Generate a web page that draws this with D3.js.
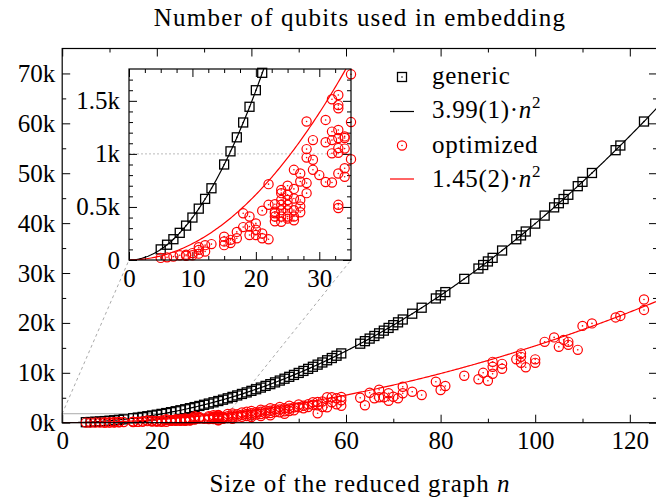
<!DOCTYPE html>
<html><head><meta charset="utf-8">
<script src="https://cdn.jsdelivr.net/npm/d3@7"></script>
<style>body{margin:0;background:#fff}svg{display:block}</style>
</head><body><svg id="c" width="656" height="497"></svg>
<script>
// ---------- data ----------
const genericN = [5,6,7,8,9,10,11,12,13,15,16,17,18,19,20,21,22,23,24,25,26,27,28,29,30,31,32,33,34,35,36,37,38,39,40,41,42,43,44,45,46,47,48,49,50,51,52,53,54,55,56,57,58,59,
  63,64,65,66,67,68,69,70,71,72,74,76,79,80,81,85,88,89,90,91,93,96,97,98,100,102,104,105,106,107,109,110,112,117,118,123];
const genericQ = [100,144,196,256,324,400,484,576,676,900,1024,1156,1296,1444,1600,1764,1931,2111,2298,2494,2697,2909,3128,3356,3591,3834,4086,4345,4613,4888,5171,5462,5762,6069,6384,6707,7038,7378,7725,8080,8443,8814,9193,9580,9975,10378,10789,11208,11635,12070,12513,12964,13422,13889,
  15836,16343,16858,17380,17911,18450,18996,19551,20114,20684,21849,23046,24902,25536,26178,28828,30899,31605,32319,33041,34510,36772,37542,38320,39900,41512,43156,43990,44832,45681,47405,48279,50051,54619,55557,60365];

const optimizedN = [5,6,7,8,9,9,10,10,11,11,11,12,12,13,15,15,15,16,16,17,17,18,18,19,19,19,20,20,20,21,21,21,22,22,22,
  23,23,23,23,23,24,24,24,24,24,24,24,25,25,25,25,25,25,25,26,26,26,26,26,26,27,27,27,27,27,28,28,28,28,28,29,29,29,30,31,31,31,
  32,32,32,32,32,33,33,33,33,33,33,33,33,33,33,34,34,34,34,34,
  35,35,35,36,36,36,36,37,37,38,38,38,39,39,39,40,40,40,40,41,41,42,42,42,42,43,43,44,44,44,44,45,45,46,46,46,47,47,47,48,48,48,49,49,
  50,50,51,51,52,52,53,53,54,54,54,55,55,56,56,57,57,58,58,59,59,59,
  63,64,65,66,67,67,68,69,69,70,71,72,72,74,76,79,80,81,85,88,89,90,91,91,91,93,93,96,97,97,97,98,100,100,102,104,105,106,107,107,109,110,112,117,118,123,123];
const optimizedQ = [20,25,32,45,50,40,65,45,95,60,120,80,140,150,220,175,140,190,160,265,205,440,310,410,315,235,345,285,235,465,250,205,715,520,195,
  525,455,410,365,440,660,630,565,520,470,410,360,700,615,565,520,470,410,390,850,670,580,470,410,375,815,740,565,505,450,1305,1045,965,725,630,1130,945,850,800,1320,1110,735,
  1515,1210,1130,1005,730,1555,1460,1430,1225,1150,1055,1010,815,520,490,1165,1150,1050,865,785,
  1750,1300,950,1850,1450,1100,800,1700,1250,2050,1600,1200,2200,1750,1350,2350,1900,1500,1150,2100,1650,2600,2200,1750,1350,2450,1900,2900,2400,1950,1500,2700,2150,3150,2650,2100,2900,2300,1800,3400,2850,2350,3100,2500,
  3650,3100,3400,2900,3700,3150,4100,3600,4150,3500,1900,4250,3150,5100,3100,5100,4100,4900,3700,5150,4500,3400,
  5000,3500,6000,4900,6600,5100,5100,4400,5900,5200,4900,7200,5900,6200,5550,8200,6550,7350,9400,8700,10000,8400,12200,11200,9800,11800,10800,12700,13900,13200,12000,11100,12700,12000,16200,17100,15200,16600,16200,15600,14600,19400,19900,21100,21400,24700,22600];

const fitGeneric = 3.99;     // black fit curve coefficient
const fitOptimized = 1.54;   // red fit curve as drawn
const legendLabels = ["generic", "3.99(1)·", "optimized", "1.45(2)·"];
const mainXTicks = [0,20,40,60,80,100,120];
const mainXMinor = [10,30,50,70,90,110];
const mainYTicks = [0,10000,20000,30000,40000,50000,60000,70000];
const mainYMinor = [5000,15000,25000,35000,45000,55000,65000];
const insetXTicks = [0,10,20,30];
const insetXMinor = [2.5,5,7.5,12.5,15,17.5,22.5,25,27.5,32.5];
const insetYTicks = [0,500,1000,1500];
const insetYLabels = ["0","0.5k","1k","1.5k"];
const insetYMinor = [100,200,300,400,600,700,800,900,1100,1200,1300,1400,1600,1700];
const titleText = "Number of qubits used in embedding";
const xLabelText = "Size of the reduced graph ";

// ---------- layout ----------
const FONT = "'Liberation Serif','DejaVu Serif',serif";
const FS = 25;
const svg = d3.select("#c");
const x = d3.scaleLinear().domain([0,125.75]).range([62.2,657]);
const y = d3.scaleLinear().domain([0,75000]).range([422.7,48.5]);
const xi = d3.scaleLinear().domain([0,35]).range([129,351]);
const yi = d3.scaleLinear().domain([0,1800]).range([260,69]);
const RED = "#ff0000";

const defs = svg.append("defs");
defs.append("clipPath").attr("id","clipMain").append("rect")
  .attr("x",x.range()[0]).attr("y",y.range()[1]).attr("width",x.range()[1]-x.range()[0]).attr("height",y.range()[0]-y.range()[1]);
defs.append("clipPath").attr("id","clipInset").append("rect")
  .attr("x",xi.range()[0]).attr("y",yi.range()[1]).attr("width",xi.range()[1]-xi.range()[0]).attr("height",yi.range()[0]-yi.range()[1]);

const gen = genericN.map((n,i)=>({n, q: genericQ[i]}));
const opt = optimizedN.map((n,i)=>({n, q: optimizedQ[i]}));

function addAxis(orient, sx, sy, tx, ty, major, minor, fmt, pad){
  const mk = {bottom:d3.axisBottom, top:d3.axisTop, left:d3.axisLeft, right:d3.axisRight}[orient];
  const scale = (orient==="bottom"||orient==="top") ? sx : sy;
  const gMin = svg.append("g").attr("transform",`translate(${tx},${ty})`)
    .call(mk(scale).tickValues(minor).tickSize(-4).tickFormat(""));
  const gMaj = svg.append("g").attr("transform",`translate(${tx},${ty})`)
    .call(mk(scale).tickValues(major).tickSize(-8).tickPadding(pad).tickFormat(fmt || (()=> "")));
  [gMin,gMaj].forEach(g=>{
    g.select(".domain").remove();
    g.selectAll("line").attr("stroke","#000").attr("stroke-width",1);
    g.selectAll("text").attr("font-family",FONT).attr("font-size",FS).attr("fill","#000");
  });
}

function drawSquares(g, data, sx, sy){
  g.selectAll(null).data(data).enter().append("rect")
    .attr("x",d=>sx(d.n)-4.5).attr("y",d=>sy(d.q)-4.5).attr("width",9).attr("height",9)
    .attr("fill","none").attr("stroke","#000").attr("stroke-width",1.3);
  g.selectAll(null).data(data).enter().append("circle")
    .attr("cx",d=>sx(d.n)).attr("cy",d=>sy(d.q)).attr("r",0.8).attr("fill","#000");
}
function drawCircles(g, data, sx, sy){
  g.selectAll(null).data(data).enter().append("circle")
    .attr("cx",d=>sx(d.n)).attr("cy",d=>sy(d.q)).attr("r",4.6)
    .attr("fill","none").attr("stroke",RED).attr("stroke-width",1.2);
  g.selectAll(null).data(data).enter().append("circle")
    .attr("cx",d=>sx(d.n)).attr("cy",d=>sy(d.q)).attr("r",0.8).attr("fill",RED);
}
function fitLine(coef, maxN){
  return d3.range(0, maxN+0.25, 0.25).map(n=>({n, q: coef*n*n}));
}

// ---------- main panel ----------
addAxis("bottom", x, y, 0, y.range()[0], mainXTicks, mainXMinor, d=>String(d), 9);
addAxis("top", x, y, 0, y.range()[1], mainXTicks, mainXMinor, null, 0);
addAxis("left", x, y, x.range()[0], 0, mainYTicks, mainYMinor, d=>(d/1000)+"k", 7);
addAxis("right", x, y, x.range()[1], 0, mainYTicks, mainYMinor, null, 0);

// zoom rectangle and connectors
svg.append("rect").attr("x",x(0)).attr("y",y(1800)).attr("width",x(35)-x(0)).attr("height",y(0)-y(1800))
  .attr("fill","none").attr("stroke","#aaa").attr("stroke-width",1);
svg.append("line").attr("x1",x(0)).attr("y1",y(1800)).attr("x2",xi(0)).attr("y2",yi(0))
  .attr("stroke","#aaa").attr("stroke-width",1).attr("stroke-dasharray","3,3");
svg.append("line").attr("x1",x(35)).attr("y1",y(1800)).attr("x2",xi(35)).attr("y2",yi(0))
  .attr("stroke","#aaa").attr("stroke-width",1).attr("stroke-dasharray","3,3");

const gm = svg.append("g");
const lineMain = d3.line().x(d=>x(d.n)).y(d=>y(d.q));
gm.append("path").attr("clip-path","url(#clipMain)").attr("d",lineMain(fitLine(fitGeneric,127)))
  .attr("fill","none").attr("stroke","#000").attr("stroke-width",1.2);
drawSquares(gm, gen, x, y);
gm.append("path").attr("clip-path","url(#clipMain)").attr("d",lineMain(fitLine(fitOptimized,127)))
  .attr("fill","none").attr("stroke",RED).attr("stroke-width",1.2);
drawCircles(gm, opt, x, y);

svg.append("rect").attr("x",x.range()[0]).attr("y",y.range()[1]).attr("width",x.range()[1]-x.range()[0]).attr("height",y.range()[0]-y.range()[1])
  .attr("fill","none").attr("stroke","#000").attr("stroke-width",1.2);

// ---------- inset ----------
svg.append("rect").attr("x",xi.range()[0]).attr("y",yi.range()[1]).attr("width",xi.range()[1]-xi.range()[0]).attr("height",yi.range()[0]-yi.range()[1])
  .attr("fill","#fff");
svg.append("line").attr("x1",xi(0)).attr("x2",xi(35)).attr("y1",yi(1000)).attr("y2",yi(1000))
  .attr("stroke","#bbb").attr("stroke-width",1).attr("stroke-dasharray","2,2");
addAxis("bottom", xi, yi, 0, yi.range()[0], insetXTicks, insetXMinor, d=>String(d), 9);
addAxis("top", xi, yi, 0, yi.range()[1], insetXTicks, insetXMinor, null, 0);
addAxis("left", xi, yi, xi.range()[0], 0, insetYTicks, insetYMinor, d=>insetYLabels[insetYTicks.indexOf(d)], 9);
addAxis("right", xi, yi, xi.range()[1], 0, insetYTicks, insetYMinor, null, 0);

const gi = svg.append("g");
const lineInset = d3.line().x(d=>xi(d.n)).y(d=>yi(d.q));
gi.append("path").attr("clip-path","url(#clipInset)").attr("d",lineInset(fitLine(fitGeneric,35)))
  .attr("fill","none").attr("stroke","#000").attr("stroke-width",1.2);
drawSquares(gi, gen.filter(d=>d.n<=35 && d.q<=1800), xi, yi);
gi.append("path").attr("clip-path","url(#clipInset)").attr("d",lineInset(fitLine(fitOptimized,35)))
  .attr("fill","none").attr("stroke",RED).attr("stroke-width",1.2);
drawCircles(gi, opt.filter(d=>d.n<=35 && d.q<=1800), xi, yi);
svg.append("rect").attr("x",xi.range()[0]).attr("y",yi.range()[1]).attr("width",xi.range()[1]-xi.range()[0]).attr("height",yi.range()[0]-yi.range()[1])
  .attr("fill","none").attr("stroke","#000").attr("stroke-width",1.2);

// ---------- legend ----------
const lg = svg.append("g");
const lx = 402, tx0 = 432, base0 = 84, step = 34.3;
legendLabels.forEach((lab,i)=>{
  const b = base0 + i*step;
  const t = lg.append("text").attr("x",tx0).attr("y",b).attr("font-family",FONT).attr("font-size",FS)
    .attr("letter-spacing",0.7).attr("fill","#000");
  t.append("tspan").text(lab);
  if(i===1||i===3){
    t.append("tspan").attr("font-style","italic").text("n");
    t.append("tspan").attr("font-size",17).attr("dy",-10).text("2");
  }
});
const my = [77, 111.5, 145.5, 179];
drawSquares(lg, [{n:0,q:0}], ()=>lx, ()=>my[0]);
lg.append("line").attr("x1",lx-12).attr("x2",lx+12).attr("y1",my[1]).attr("y2",my[1]).attr("stroke","#000").attr("stroke-width",1.2);
drawCircles(lg, [{n:0,q:0}], ()=>lx, ()=>my[2]);
lg.append("line").attr("x1",lx-12).attr("x2",lx+12).attr("y1",my[3]).attr("y2",my[3]).attr("stroke",RED).attr("stroke-width",1.2);

// ---------- titles ----------
svg.append("text").attr("x",360).attr("y",26).attr("text-anchor","middle")
  .attr("font-family",FONT).attr("font-size",FS).attr("letter-spacing",1.2).attr("fill","#000").text(titleText);
const xl = svg.append("text").attr("x",360).attr("y",492).attr("text-anchor","middle")
  .attr("font-family",FONT).attr("font-size",FS).attr("letter-spacing",1).attr("fill","#000");
xl.append("tspan").text(xLabelText);
xl.append("tspan").attr("font-style","italic").text("n");
</script></body></html>
